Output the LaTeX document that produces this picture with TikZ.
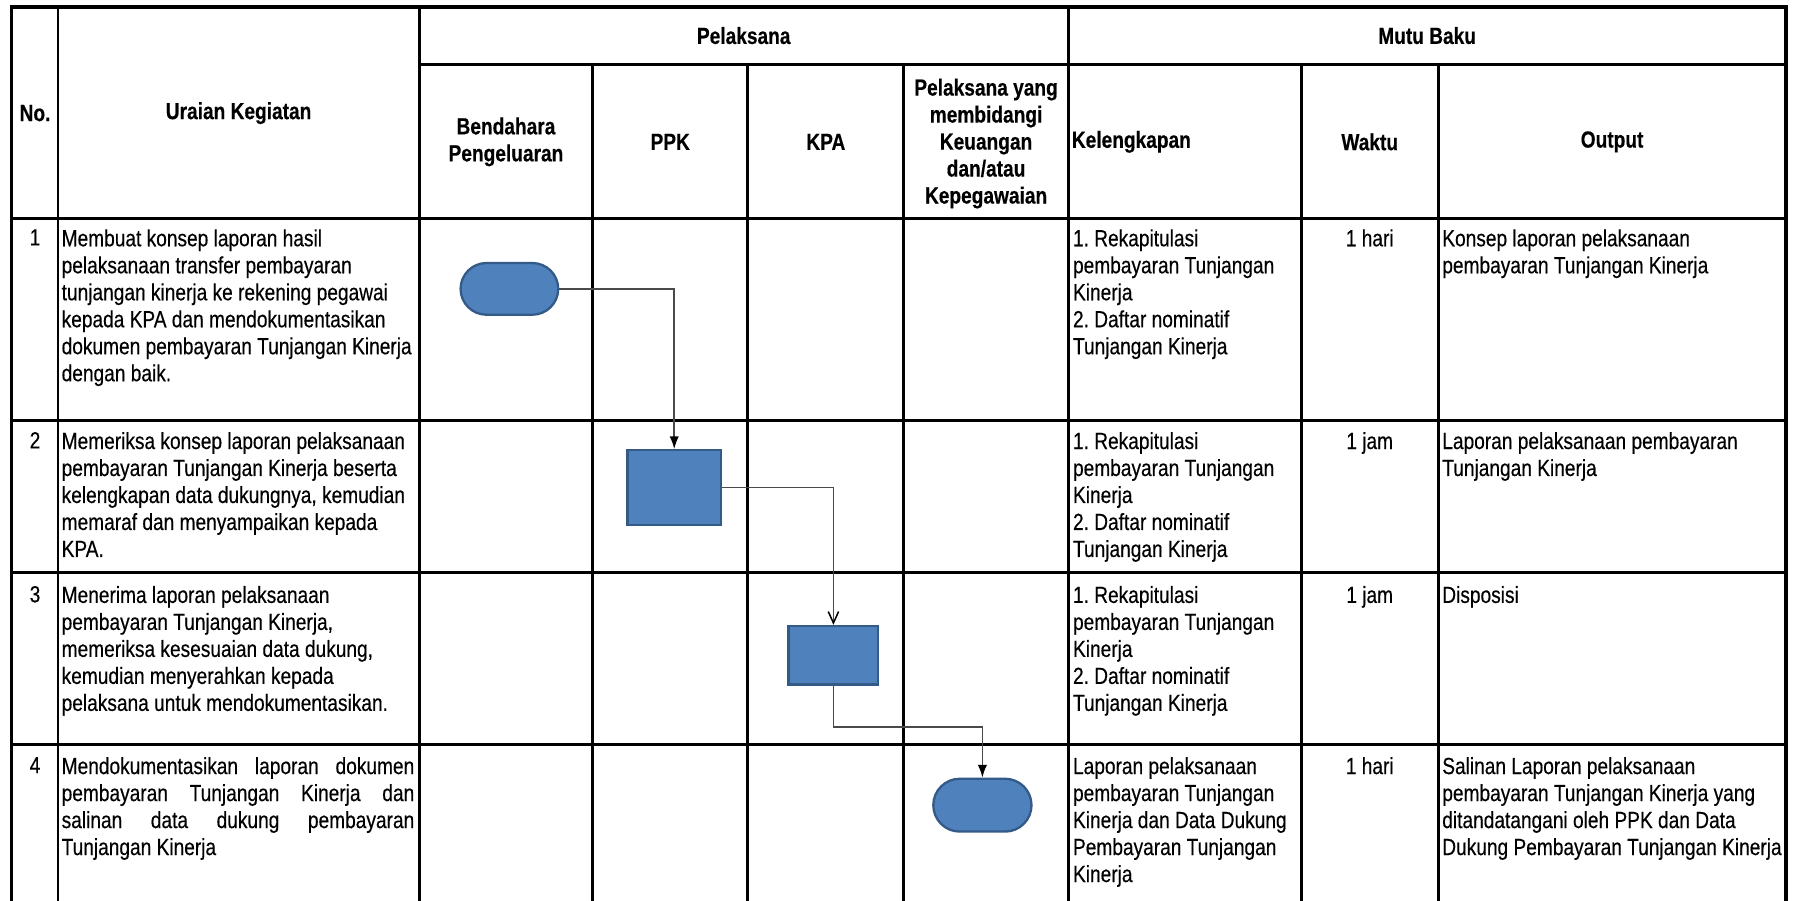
\documentclass[tikz,border=0pt]{standalone}
\usepackage{fontspec}
\setmainfont[FakeStretch=0.82,FakeBold=0.35]{Liberation Sans}
\usetikzlibrary{arrows.meta,shapes.misc}
\definecolor{boxfill}{HTML}{4F81BD}
\definecolor{boxline}{HTML}{345A88}
\definecolor{connc}{HTML}{4A4A4A}
\begin{document}
\frenchspacing
\begin{tikzpicture}[x=1pt,y=-1pt,
  gl/.style={line width=2.6pt, line cap=rect},
  ol/.style={line width=3.4pt, line cap=rect},
  hd/.style={font=\bfseries\fontsize{20.3}{23.5}\selectfont, align=center, inner sep=0},
  tx/.style={font=\fontsize{20.3}{23.5}\selectfont, align=left, anchor=north west, inner sep=0},
  nm/.style={font=\fontsize{20.3}{23.5}\selectfont, anchor=north, inner sep=0},
  term/.style={rounded rectangle, draw=boxline, fill=boxfill, line width=2pt, inner sep=0},
  proc/.style={rectangle, draw=boxline, fill=boxfill, line width=2pt, inner sep=0},
  conn/.style={draw=connc, line width=1.3pt},
]
\useasboundingbox (0,0) rectangle (1568,784);
\fill[white] (0,0) rectangle (1568,784);
% grid
\draw[gl] (365,56) -- (1555,56);
\foreach \y in {190.5,366,498,648} \draw[gl] (10,\y) -- (1555,\y);
\foreach \x in {50.5,365,930} \draw[gl] (\x,6) -- (\x,790);
\foreach \x in {516,651,787,1133,1252} \draw[gl] (\x,56) -- (\x,790);
\draw[ol] (10,790) -- (10,6) -- (1555,6) -- (1555,790);

% headers
\node[hd] (hno) at (30.5,98.5) {No.};
\node[hd] (hur) at (207.75,98.5) {Uraian Kegiatan};
\node[hd] (hpel) at (647.5,31) {Pelaksana};
\node[hd] (hmb) at (1242.5,31) {Mutu Baku};
\node[hd] (hbp) at (440.5,123.5) {Bendahara\\Pengeluaran};
\node[hd] (hppk) at (583.5,123.5) {PPK};
\node[hd] (hkpa) at (719,123.5) {KPA};
\node[hd] (hpy) at (858.5,125) {Pelaksana yang\\membidangi\\Keuangan\\dan/atau\\Kepegawaian};
\node[hd, anchor=west] (hkel) at (933,123.5) {Kelengkapan};
\node[hd] (hwak) at (1192.5,123.5) {Waktu};
\node[hd] (hout) at (1403.5,123.5) {Output};

% row 1
\node[nm] (n1) at (30.5,199.5) {1};
\node[tx] (u1) at (53.5,199.5) {Membuat konsep laporan hasil\\pelaksanaan transfer pembayaran\\tunjangan kinerja ke rekening pegawai\\kepada KPA dan mendokumentasikan\\dokumen pembayaran Tunjangan Kinerja\\dengan baik.};
\node[tx] (k1) at (934,199.5) {1. Rekapitulasi\\pembayaran Tunjangan\\Kinerja\\2. Daftar nominatif\\Tunjangan Kinerja};
\node[nm] (w1) at (1192.5,199.5) {1 hari};
\node[tx] (o1) at (1255.5,199.5) {Konsep laporan pelaksanaan\\pembayaran Tunjangan Kinerja};

% row 2
\node[nm] (n2) at (30.5,376) {2};
\node[tx] (u2) at (53.5,376) {Memeriksa konsep laporan pelaksanaan\\pembayaran Tunjangan Kinerja beserta\\kelengkapan data dukungnya, kemudian\\memaraf dan menyampaikan kepada\\KPA.};
\node[tx] (k2) at (934,376) {1. Rekapitulasi\\pembayaran Tunjangan\\Kinerja\\2. Daftar nominatif\\Tunjangan Kinerja};
\node[nm] (w2) at (1192.5,376) {1 jam};
\node[tx] (o2) at (1255.5,376) {Laporan pelaksanaan pembayaran\\Tunjangan Kinerja};

% row 3
\node[nm] (n3) at (30.5,510) {3};
\node[tx] (u3) at (53.5,510) {Menerima laporan pelaksanaan\\pembayaran Tunjangan Kinerja,\\memeriksa kesesuaian data dukung,\\kemudian menyerahkan kepada\\pelaksana untuk mendokumentasikan.};
\node[tx] (k3) at (934,510) {1. Rekapitulasi\\pembayaran Tunjangan\\Kinerja\\2. Daftar nominatif\\Tunjangan Kinerja};
\node[nm] (w3) at (1192.5,510) {1 jam};
\node[tx] (o3) at (1255.5,510) {Disposisi};

% row 4
\node[nm] (n4) at (30.5,659) {4};
\node[tx] (u4) at (53.5,659) {\makebox[307pt][s]{Mendokumentasikan laporan dokumen}\\\makebox[307pt][s]{pembayaran Tunjangan Kinerja dan}\\\makebox[307pt][s]{salinan data dukung pembayaran}\\Tunjangan Kinerja};
\node[tx] (k4) at (934,659) {Laporan pelaksanaan\\pembayaran Tunjangan\\Kinerja dan Data Dukung\\Pembayaran Tunjangan\\Kinerja};
\node[nm] (w4) at (1192.5,659) {1 hari};
\node[tx] (o4) at (1255.5,659) {Salinan Laporan pelaksanaan\\pembayaran Tunjangan Kinerja yang\\ditandatangani oleh PPK dan Data\\Dukung Pembayaran Tunjangan Kinerja};

% flow shapes
\node[term, minimum width=85pt, minimum height=45pt] (t1) at (443.5,251.5) {};
\node[proc, minimum width=81.5pt, minimum height=65pt] (r2) at (587,424.5) {};
\node[proc, minimum width=78pt, minimum height=51pt] (r3) at (725.6,570.5) {};
\node[term, minimum width=85.5pt, minimum height=46pt] (t4) at (855.3,701) {};
\coordinate (m3) at (725.6,633);

\draw[conn, -{Latex[length=11pt,width=8pt,color=black]}] (t1.east) -| (r2.north);
\draw[conn, -{Straight Barb[length=10pt,width=9pt,color=black,line width=1.3pt]}] (r2.east) -| (r3.north);
\draw[conn, -{Latex[length=11pt,width=8pt,color=black]}] (r3.south) -- (m3) -| (t4.north);
\end{tikzpicture}
\end{document}
